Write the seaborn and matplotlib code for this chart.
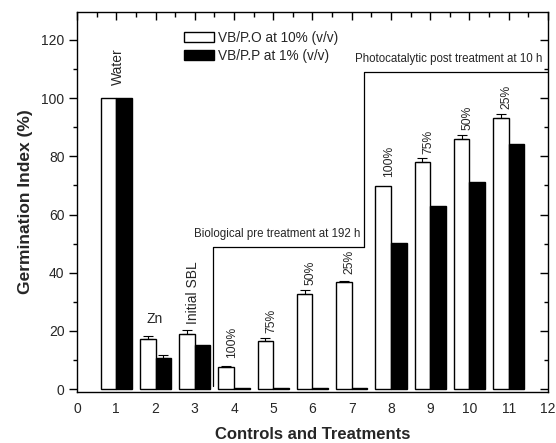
import numpy as np
import pandas as pd
import matplotlib
matplotlib.use("Agg")
import matplotlib.pyplot as plt
from matplotlib.ticker import MultipleLocator
from matplotlib.patches import Patch
import seaborn as sns

# ---- data ----
positions = [1, 2, 3, 4, 5, 6, 7, 8, 9, 10, 11]
series_names = ["VB/P.O at 10% (v/v)", "VB/P.P at 1% (v/v)"]
po_values = [100, 17.2, 19.0, 7.7, 16.4, 32.7, 36.7, 69.9, 77.9, 86.0, 93.1]
po_errors = [0, 1.0, 1.3, 0.4, 1.1, 1.2, 0.4, 0, 1.5, 1.2, 1.3]
pp_values = [100, 10.8, 15.1, 0.5, 0.5, 0.5, 0.5, 50.1, 63.0, 71.3, 84.1]
pp_errors = [0, 1.0, 0, 0, 0, 0, 0, 0, 0, 0, 0]
group_labels = ["Water", "Zn", "Initial SBL", "100%", "75%", "50%", "25%",
                "100%", "75%", "50%", "25%"]
label_rotation = [90, 0, 90, 90, 90, 90, 90, 90, 90, 90, 90]
xticks = list(range(0, 13))
yticks = [0, 20, 40, 60, 80, 100, 120]
bio_text = "Biological pre treatment at 192 h"
photo_text = "Photocatalytic post treatment at 10 h"

# ---- style ----
sns.set_theme(style="white")
plt.rcParams["font.family"] = ["Liberation Sans", "DejaVu Sans"]

df = pd.DataFrame({
    "pos": positions * 2,
    "value": po_values + pp_values,
    "series": [series_names[0]] * len(positions) + [series_names[1]] * len(positions),
})

fig = plt.figure(figsize=(5.56, 4.43), dpi=100)
ax = fig.add_axes([0.1385, 0.1151, 0.8471, 0.8578])

sns.barplot(data=df, x="pos", y="value", hue="series", native_scale=True,
            dodge=True, width=0.8, errorbar=None,
            palette={series_names[0]: "white", series_names[1]: "black"},
            edgecolor="black", linewidth=1.0, ax=ax, legend=False)

# error bars (upper only)
half = 0.2
for vals, errs, off in [(po_values, po_errors, -half), (pp_values, pp_errors, half)]:
    xs = [p + off for p, e in zip(positions, errs) if e > 0]
    ys = [v for v, e in zip(vals, errs) if e > 0]
    es = [e for e in errs if e > 0]
    ax.errorbar(xs, ys, yerr=[np.zeros(len(es)), es], fmt="none",
                ecolor="black", elinewidth=0.8, capsize=3.5, capthick=0.8)

# group labels
for p, v, lab, rot in zip(positions, po_values, group_labels, label_rotation):
    if rot == 0:
        ax.text(p - 0.02, v + 4.5, lab, ha="center", va="bottom", fontsize=10)
    elif lab == "Water":
        ax.text(p + 0.05, v + 4.5, lab, ha="center", va="bottom", fontsize=10, rotation=rot)
    elif lab == "Initial SBL":
        ax.text(p - 0.05, v + 3.3, lab, ha="center", va="bottom", fontsize=10, rotation=rot)
    else:
        ax.text(p - 0.05, v + 3.0, lab, ha="center", va="bottom", fontsize=8.7, rotation=rot)

# brackets
bio_x0, bio_x1, bio_y0, bio_y1 = 3.47, 7.31, 1.0, 49.0
photo_y = 109.0
ax.plot([bio_x0, bio_x0, bio_x1], [bio_y0, bio_y1, bio_y1], color="black", lw=0.9)
ax.plot([bio_x1, bio_x1, 12], [bio_y1, photo_y, photo_y], color="black", lw=0.9)
ax.text(5.1, 51.3, bio_text, ha="center", va="bottom", fontsize=8.3)
ax.text(9.48, 111.5, photo_text, ha="center", va="bottom", fontsize=8.3)

# axes
ax.set_xlim(0, 12)
ax.set_ylim(-1, 129.6)
ax.set_xticks(xticks)
ax.set_yticks(yticks)
ax.xaxis.set_minor_locator(MultipleLocator(0.5))
ax.yaxis.set_minor_locator(MultipleLocator(10))
ax.tick_params(axis="x", which="both", bottom=False, top=True, direction="in",
               labelbottom=True, labelsize=10, pad=7, color="black")
ax.tick_params(axis="x", which="major", length=6, width=1)
ax.tick_params(axis="x", which="minor", length=3.5, width=1)
ax.tick_params(axis="y", which="both", left=True, right=False, direction="out",
               labelsize=10, pad=3, color="black")
ax.tick_params(axis="y", which="major", length=6, width=1)
ax.tick_params(axis="y", which="minor", length=3, width=1)

sec = ax.secondary_yaxis("right")
sec.set_yticks(yticks)
sec.yaxis.set_minor_locator(MultipleLocator(10))
sec.tick_params(axis="y", which="both", direction="in", labelright=False, color="black", width=1)
sec.tick_params(axis="y", which="major", length=6)
sec.tick_params(axis="y", which="minor", length=3)
sec.spines["right"].set_visible(False)

for s in ax.spines.values():
    s.set_color("black")
    s.set_linewidth(1.0)

ax.set_xlabel("Controls and Treatments", fontsize=12, fontweight="bold", labelpad=8)
ax.set_ylabel("Germination Index (%)", fontsize=12.5, fontweight="bold", labelpad=6)

handles = [Patch(facecolor="white", edgecolor="black", linewidth=1.0),
           Patch(facecolor="black", edgecolor="black", linewidth=1.0)]
ax.legend(handles, series_names, loc="upper left", bbox_to_anchor=(0.215, 0.965),
          frameon=False, fontsize=9.8, handlelength=2.2, handleheight=0.8,
          handletextpad=0.3, labelspacing=0.3, borderaxespad=0)

fig.savefig("out.png", dpi=100)
